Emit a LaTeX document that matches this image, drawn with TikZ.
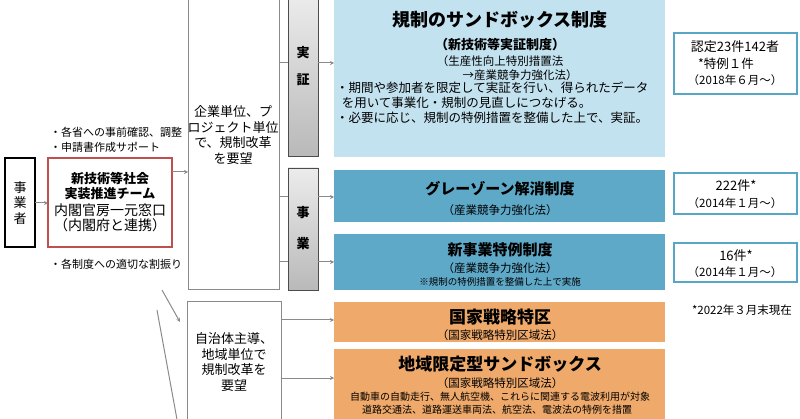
\documentclass[tikz,border=0pt]{standalone}
\usepackage{fontspec}
\setmainfont{Noto Sans CJK JP}
\usetikzlibrary{arrows.meta}
\definecolor{lblue}{HTML}{C3E2F0}
\definecolor{mblue}{HTML}{5FA9C8}
\definecolor{orng}{HTML}{EFA96A}
\definecolor{gline}{HTML}{8A8A8A}
\definecolor{rbord}{HTML}{58A6C6}
\tikzset{
 fs/.style={font=\fontsize{#1pt}{1.2\dimexpr#1pt\relax}\selectfont},
 arr/.style={draw=gline,line width=1pt,-{Stealth[length=4pt,width=4pt]}},
 ln/.style={draw=gline,line width=1pt},
 gbox/.style={draw=gline,line width=1pt,fill=white},
 grey/.style={draw=black!70,line width=0.8pt,top color=gray!15,bottom color=gray!55},
 cnt/.style={align=center,inner sep=0pt},
 rbox/.style={draw=rbord,line width=1.5pt,fill=white},
}
\begin{document}
\begin{tikzpicture}[x=1pt,y=-1pt]
\useasboundingbox (0,0) rectangle (800,419);
% left boxes
\draw[black,line width=1.5pt] (5,158) rectangle (35,247);
\node[cnt,fs=13] (jg) at (20,203) {事\\業\\者};
\coordinate (jgr) at (35,203);
\draw[draw={rgb,255:red,190;green,80;blue,80},line width=1.3pt] (48,158) rectangle (172,247);
\coordinate (tml) at (48,203);
\node[cnt,fs=13] (tm) at (110,202) {\textbf{新技術等社会}\\\textbf{実装推進チーム}\\[1pt]{\fontsize{14pt}{17pt}\selectfont 内閣官房一元窓口}\\{\fontsize{14pt}{17pt}\selectfont （内閣府と連携）}};
\draw[arr] (jgr) -- (tml);
\node[anchor=west,inner sep=0pt,fs=11] (n1) at (50,132) {・各省への事前確認、調整};
\node[anchor=west,inner sep=0pt,fs=11] (n2) at (50,147) {・申請書作成サポート};
\node[anchor=west,inner sep=0pt,fs=11] (n3) at (50,264) {・各制度への適切な割振り};
% big box 1
\draw[gbox] (188,-5) rectangle (279,290);
\node[cnt,fs=13] (b1) at (233,135) {企業単位、プ\\ロジェクト単位\\で、規制改革\\を要望};
\coordinate (tmr) at (172,172);
\coordinate (b1l) at (188,172);
\draw[arr] (tmr) -- (b1l);
% box 2
\draw[gbox] (187,302) rectangle (281,425);
\node[cnt,fs=13] (b2) at (234,362) {自治体主導、\\地域単位で\\規制改革を\\要望};
\coordinate (d1) at (162,290); \coordinate (d2) at (180,322);
\draw[arr] (d1) -- (d2);
\coordinate (d3) at (157,310); \coordinate (d4) at (178,425);
\draw[ln] (d3) -- (d4);
% grey tabs
\draw[grey] (288,-5) rectangle (318,156);
\node[cnt,fs=13] (t1) at (303,66) {\textbf{実}\\[12pt]\textbf{証}};
\draw[grey] (288,168) rectangle (318,290);
\node[cnt,fs=13] (t2) at (303,228) {\textbf{事}\\[16pt]\textbf{業}};
% connectors
\foreach \yy in {63,197,262}{
 \draw[ln] (279,\yy) -- (288,\yy);
 \draw[arr] (318,\yy) -- (334,\yy);}
\foreach \yy in {320,378}{\draw[arr] (281,\yy) -- (334,\yy);}
% right coloured boxes
\fill[lblue] (334,-5) rectangle (665,157);
\node[cnt,fs=18] (s1) at (500,20) {\textbf{規制のサンドボックス制度}};
\node[cnt,fs=13] (s1b) at (500,45) {\textbf{（新技術等実証制度）}};
\node[cnt,fs=11.5] (s1c) at (500,61) {（生産性向上特別措置法};
\node[cnt,fs=11.5] (s1d) at (520,75) {→産業競争力強化法）};
\node[anchor=north west,align=left,inner sep=0pt,fs=12.5] (s1e) at (336,82) {・期間や参加者を限定して実証を行い、得られたデータ\\\ \ を用いて事業化・規制の見直しにつなげる。\\・必要に応じ、規制の特例措置を整備した上で、実証。};
\fill[mblue] (334,170) rectangle (665,222);
\node[cnt,fs=15] (s2) at (500,189) {\textbf{グレーゾーン解消制度}};
\node[cnt,fs=11.5] (s2b) at (500,210) {（産業競争力強化法）};
\fill[mblue] (334,234) rectangle (665,290);
\node[cnt,fs=15] (s3) at (500,250) {\textbf{新事業特例制度}};
\node[cnt,fs=11.5] (s3b) at (500,268) {（産業競争力強化法）};
\node[cnt,fs=9.5] (s3c) at (500,282) {※規制の特例措置を整備した上で実施};
\fill[orng] (334,302) rectangle (665,342);
\node[cnt,fs=17] (s4) at (500,317) {\textbf{国家戦略特区}};
\node[cnt,fs=11.5] (s4b) at (500,335) {（国家戦略特別区域法）};
\fill[orng] (334,349) rectangle (665,425);
\node[cnt,fs=17] (s5) at (500,364) {\textbf{地域限定型サンドボックス}};
\node[cnt,fs=11.5] (s5b) at (500,383) {（国家戦略特別区域法）};
\node[cnt,fs=10] (s5c) at (500,397) {自動車の自動走行、無人航空機、これらに関連する電波利用が対象};
\node[cnt,fs=10] (s5d) at (497,410) {道路交通法、道路運送車両法、航空法、電波法の特例を措置};
% stat boxes
\draw[rbox] (674,33) rectangle (797,94);
\node[cnt,fs=13] (r1) at (735,47) {認定23件142者};
\node[cnt,fs=12.5] (r1b) at (726,64) {*特例１件};
\node[cnt,fs=11.5] (r1c) at (735,80) {（2018年６月～）};
\draw[rbox] (674,173) rectangle (797,214);
\node[cnt,fs=13] (r2) at (736,186) {222件*};
\node[cnt,fs=11.5] (r2b) at (735,203) {（2014年１月～）};
\draw[rbox] (674,243) rectangle (797,282);
\node[cnt,fs=13] (r3) at (736,256) {16件*};
\node[cnt,fs=11.5] (r3b) at (735,272) {（2014年１月～）};
\node[cnt,fs=11.5] (nt) at (742,310) {*2022年３月末現在};
\end{tikzpicture}
\end{document}
